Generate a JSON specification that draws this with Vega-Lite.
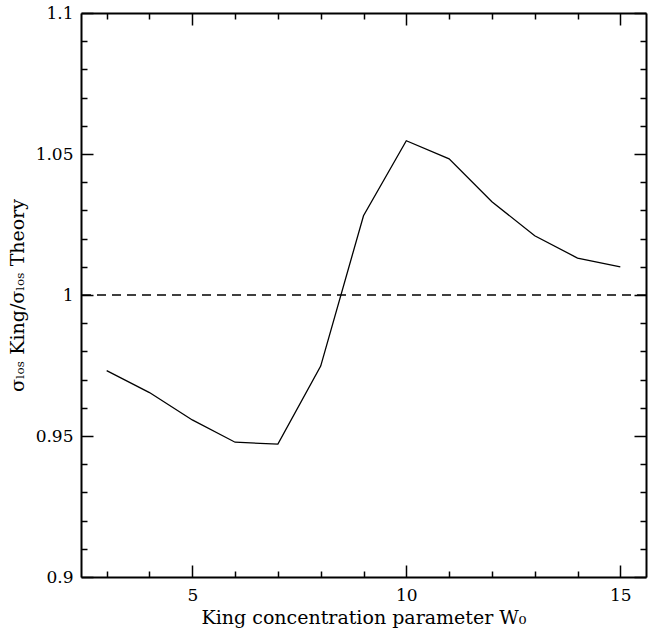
{
  "$schema": "https://vega.github.io/schema/vega-lite/v6.json",
  "width": 565,
  "height": 564,
  "autosize": {"type": "none"},
  "padding": {"left": 81, "top": 13, "right": 11, "bottom": 56},
  "background": "white",
  "config": {
    "view": {"stroke": null},
    "axis": {
      "grid": false,
      "domainColor": "black",
      "domainWidth": 2,
      "tickColor": "black",
      "tickWidth": 1.5,
      "labelFont": "DejaVu Serif",
      "labelFontSize": 17,
      "labelColor": "black",
      "titleFont": "DejaVu Serif",
      "titleFontSize": 19,
      "titleFontWeight": "normal",
      "titleColor": "black"
    }
  },
  "datasets": {
    "curve": [
      {"W0": 3, "ratio": 0.9732},
      {"W0": 4, "ratio": 0.9654},
      {"W0": 5, "ratio": 0.9557},
      {"W0": 6, "ratio": 0.9478},
      {"W0": 7, "ratio": 0.9471},
      {"W0": 8, "ratio": 0.9748},
      {"W0": 9, "ratio": 1.0281},
      {"W0": 10, "ratio": 1.0547},
      {"W0": 11, "ratio": 1.0483},
      {"W0": 12, "ratio": 1.0331},
      {"W0": 13, "ratio": 1.0210},
      {"W0": 14, "ratio": 1.0131},
      {"W0": 15, "ratio": 1.0100}
    ],
    "ref": [{"ratio": 1.0}]
  },
  "layer": [
    {
      "data": {"name": "curve"},
      "mark": {"type": "line", "color": "black", "strokeWidth": 1.3},
      "encoding": {
        "x": {
          "field": "W0", "type": "quantitative",
          "scale": {"domain": [2.4, 15.6], "nice": false, "zero": false},
          "axis": {
            "orient": "bottom",
            "values": [3, 4, 5, 6, 7, 8, 9, 10, 11, 12, 13, 14, 15],
            "tickSize": {"condition": {"test": "datum.value % 5 === 0", "value": -12}, "value": -6},
            "labelExpr": "datum.value % 5 === 0 ? '' + datum.value : ''",
            "labelPadding": 22,
            "title": "King concentration parameter W₀",
            "titlePadding": 5
          }
        },
        "y": {
          "field": "ratio", "type": "quantitative",
          "scale": {"domain": [0.9, 1.1], "nice": false, "zero": false},
          "axis": {
            "orient": "left",
            "values": [0.9, 0.91, 0.92, 0.93, 0.94, 0.95, 0.96, 0.97, 0.98, 0.99, 1, 1.01, 1.02, 1.03, 1.04, 1.05, 1.06, 1.07, 1.08, 1.09, 1.1],
            "tickSize": {"condition": {"test": "indexof([0.9, 0.95, 1, 1.05, 1.1], datum.value) >= 0", "value": -12}, "value": -6},
            "labelExpr": "indexof([0.9, 0.95, 1, 1.05, 1.1], datum.value) >= 0 ? '' + datum.value : ''",
            "labelPadding": 20,
            "title": "σₗₒₛ King/σₗₒₛ Theory",
            "titlePadding": 8
          }
        }
      }
    },
    {
      "data": {"name": "ref"},
      "mark": {"type": "rule", "color": "black", "strokeWidth": 1.3, "strokeDash": [9, 6]},
      "encoding": {
        "y": {
          "field": "ratio", "type": "quantitative",
          "scale": {"domain": [0.9, 1.1], "nice": false, "zero": false},
          "axis": null
        }
      }
    },
    {
      "data": {"name": "curve"},
      "mark": {"type": "line", "color": "black", "opacity": 0},
      "encoding": {
        "x": {
          "field": "W0", "type": "quantitative",
          "scale": {"domain": [2.4, 15.6], "nice": false, "zero": false},
          "axis": {
            "orient": "top",
            "values": [3, 4, 5, 6, 7, 8, 9, 10, 11, 12, 13, 14, 15],
            "tickSize": {"condition": {"test": "datum.value % 5 === 0", "value": -12}, "value": -6},
            "labels": false,
            "title": null
          }
        },
        "y": {
          "field": "ratio", "type": "quantitative",
          "scale": {"domain": [0.9, 1.1], "nice": false, "zero": false},
          "axis": {
            "orient": "right",
            "values": [0.9, 0.91, 0.92, 0.93, 0.94, 0.95, 0.96, 0.97, 0.98, 0.99, 1, 1.01, 1.02, 1.03, 1.04, 1.05, 1.06, 1.07, 1.08, 1.09, 1.1],
            "tickSize": {"condition": {"test": "indexof([0.9, 0.95, 1, 1.05, 1.1], datum.value) >= 0", "value": -12}, "value": -6},
            "labels": false,
            "title": null
          }
        }
      }
    }
  ],
  "resolve": {"axis": {"x": "independent", "y": "independent"}}
}
